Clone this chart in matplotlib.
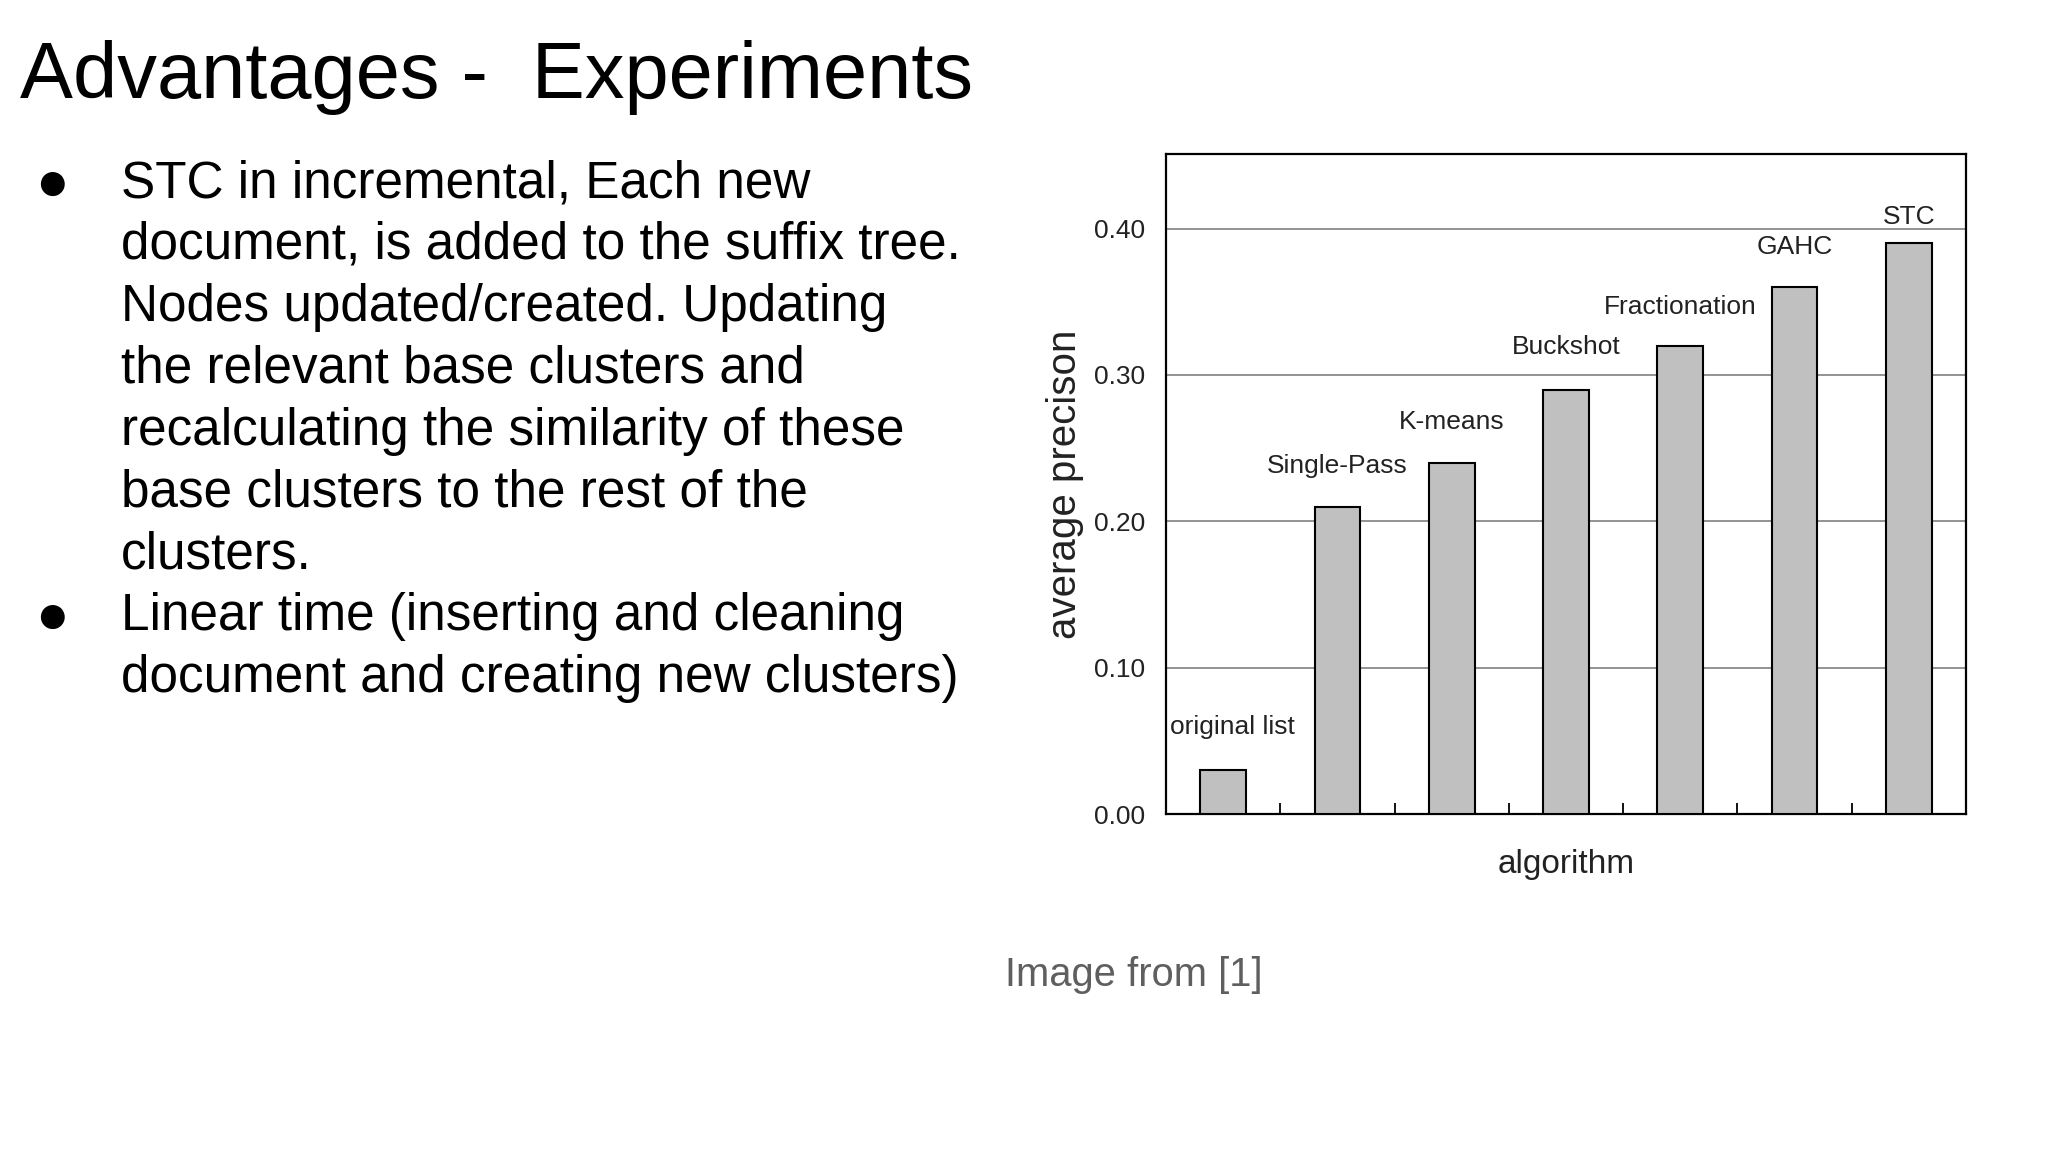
import matplotlib
matplotlib.use("Agg")
import matplotlib.pyplot as plt
import numpy as np

# ---- data ----
algorithms = ["original list", "Single-Pass", "K-means", "Buckshot",
              "Fractionation", "GAHC", "STC"]
avg_precision = [0.03, 0.21, 0.24, 0.29, 0.32, 0.36, 0.39]
y_ticks = [0.0, 0.1, 0.2, 0.3, 0.4]
y_tick_labels = ["0.00", "0.10", "0.20", "0.30", "0.40"]

title = "Advantages -  Experiments"
bullet_lines = [
    ("\u25CF", "STC in incremental, Each new"),
    ("", "document, is added to the suffix tree."),
    ("", "Nodes updated/created. Updating"),
    ("", "the relevant base clusters and"),
    ("", "recalculating the similarity of these"),
    ("", "base clusters to the rest of the"),
    ("", "clusters."),
    ("\u25CF", "Linear time (inserting and cleaning"),
    ("", "document and creating new clusters)"),
]
caption = "Image from [1]"

# ---- styles ----
FONT = ["Liberation Sans", "DejaVu Sans"]
plt.rcParams["font.family"] = FONT
W, H = 2048, 1152
fig = plt.figure(figsize=(W / 100, H / 100), dpi=100)
fig.patch.set_facecolor("white")

# Title
fig.text(20 / W, 1 - 98 / H, title, fontsize=57.2, color="black",
         ha="left", va="baseline")

# Bullets
y0 = 197
dy = 61.9
for i, (b, line) in enumerate(bullet_lines):
    y = 1 - (y0 + i * dy) / H
    if b:
        fig.text(35 / W, 1 - (y0 + 3 + i * dy) / H, b, fontsize=40,
                 ha="left", va="baseline", family=FONT)
    fig.text(121 / W, y, line, fontsize=36.9, ha="left", va="baseline")

# Caption
fig.text(1134 / W, 1 - 975 / H, caption, fontsize=28.7, color="#5f5f5f",
         ha="center", va="center")

# Chart
ax = fig.add_axes([1166 / W, 1 - 814 / H, 800 / W, 660 / H])
x = np.arange(len(algorithms))
ax.bar(x, avg_precision, width=0.4, color="#c0c0c0",
       edgecolor="black", linewidth=1.5, zorder=3)
ax.set_xlim(-0.5, len(algorithms) - 0.5)
ax.set_ylim(0, 0.451)
ax.set_yticks(y_ticks)
ax.set_yticklabels(y_tick_labels)
ax.tick_params(axis="y", length=0, pad=15, labelsize=19, labelcolor="#222222")
ax.set_xticks(x)
ax.set_xticklabels([])
ax.tick_params(axis="x", which="major", length=0)
ax.set_xticks(np.arange(0.5, len(algorithms) - 1, 1.0), minor=True)
ax.tick_params(axis="x", which="minor", direction="in", length=8,
               width=1.3, color="black")
for yv in y_ticks[1:]:
    ax.axhline(yv, color="#808080", linewidth=1.2, zorder=1)
for s in ax.spines.values():
    s.set_linewidth(1.6)
    s.set_color("black")

label_dx = [7, 0, 0, 0, 0, 0, 0]
label_dy = [33, 31, 31, 33, 30, 31, 20]
for xi, v, name, ox, oy in zip(x, avg_precision, algorithms, label_dx, label_dy):
    ax.annotate(name, (xi, v), xytext=(ox, oy * 1.306 * 0.72),
                textcoords="offset points", ha="center", va="center",
                fontsize=19, color="#222222", zorder=4)

ax.set_ylabel("average precison", fontsize=29, color="#222222", labelpad=7)
ax.set_xlabel("algorithm", fontsize=24, color="#222222", labelpad=22)

fig.savefig("out.png", dpi=100, facecolor="white")
